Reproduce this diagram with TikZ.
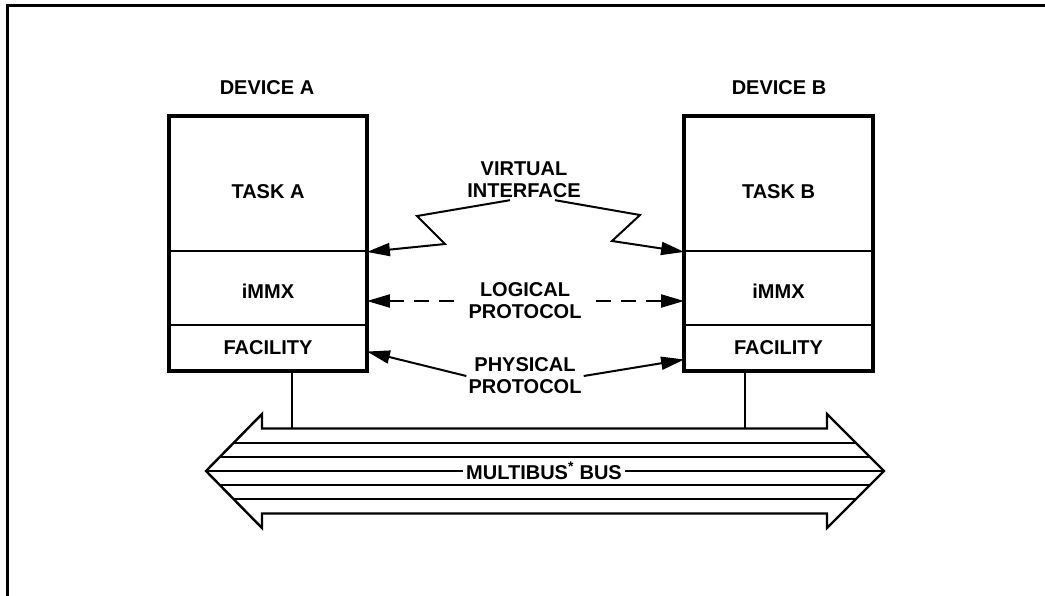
\documentclass[tikz,border=0pt]{standalone}
\usepackage{fontspec}
\setmainfont{Liberation Sans}
\usetikzlibrary{arrows.meta}
\begin{document}
\begin{tikzpicture}[x=1pt,y=-1pt]
  \useasboundingbox (0,0) rectangle (1045,595);  % Bildgroesse wie Vorlage.

  \tikzstyle{txt}=[font=\fontsize{20}{22}\selectfont\bfseries, align=center, inner sep=2pt]
  \tikzstyle{part}=[txt, draw, line width=1.8pt, inner sep=0pt]
  \tikzstyle{frame}=[line width=3.5pt]
  \tikzstyle{link}=[line width=2pt, -{Triangle[length=23pt,width=13pt]}]
  \tikzstyle{busline}=[line width=1.8pt]

  \draw[line width=3pt] (7,600) -- (7,5) -- (1050,5);

  \node[txt] (devA) at (267,88) {DEVICE A};
  \node[txt] (devB) at (779,88) {DEVICE B};

  \node[part, minimum width=196pt, minimum height=134pt, text height=30pt] (taskA) at (268,184)   {TASK A};
  \node[part, minimum width=196pt, minimum height=74pt,  text height=20pt] (mmxA)  at (268,288)   {iMMX};
  \node[part, minimum width=196pt, minimum height=45pt]  (facA)  at (268,347.5) {FACILITY};
  \node[part, minimum width=187pt, minimum height=134pt, text height=30pt] (taskB) at (778.5,184)   {TASK B};
  \node[part, minimum width=187pt, minimum height=74pt,  text height=20pt] (mmxB)  at (778.5,288)   {iMMX};
  \node[part, minimum width=187pt, minimum height=45pt]  (facB)  at (778.5,347.5) {FACILITY};
  \draw[frame] (taskA.north west) rectangle (facA.south east);
  \draw[frame] (taskB.north west) rectangle (facB.south east);

  \node[txt] (virt) at (524,180) {VIRTUAL\\INTERFACE};
  \node[txt] (log)  at (525,301) {LOGICAL\\PROTOCOL};
  \node[txt] (phy)  at (525,376) {PHYSICAL\\PROTOCOL};

  \draw[link] ([xshift=-14pt]virt.south) -- (417,216) -- (445,244) -- (taskA.south east);
  \draw[link] ([xshift=31pt]virt.south) -- (640,215) -- (612,241) -- (taskB.south west);
  \draw[link, dash pattern=on 15pt off 10pt] ([xshift=-12pt]log.west) -- (mmxA.east |- log.west);
  \draw[link, dash pattern=on 15pt off 10pt] ([xshift=12pt]log.east) -- (mmxB.west |- log.east);
  \draw[link] (phy.west) -- ([yshift=-4pt]facA.east);
  \draw[link] (phy.east) -- ([yshift=-12pt]facB.west);

  % Bus
  \coordinate (tipL) at (206,471);
  \coordinate (tipR) at (884,471);
  \coordinate (busA) at (292,428.5);
  \coordinate (busB) at (745,428.5);
  \draw[line width=2.4pt, line join=miter] (tipL) -- (262,414) -- (262,428.5) -- (827,428.5) -- (827,414)
    -- (tipR) -- (827,528) -- (827,513.5) -- (262,513.5) -- (262,528) -- cycle;
  \foreach \d in {-28,-14,14,28}
    \draw[busline] ({206+abs(\d)},{471+\d}) -- ({884-abs(\d)},{471+\d});
  \node[txt, fill=white, inner sep=3pt] (bus) at (544,471) {MULTIBUS\textsuperscript{*} BUS};
  \draw[busline] (tipL) -- (bus);
  \draw[busline] (bus) -- (tipR);

  \draw[busline] ([xshift=24pt]facA.south) -- (busA);
  \draw[busline] ([xshift=-33.5pt]facB.south) -- (busB);
\end{tikzpicture}
\end{document}
